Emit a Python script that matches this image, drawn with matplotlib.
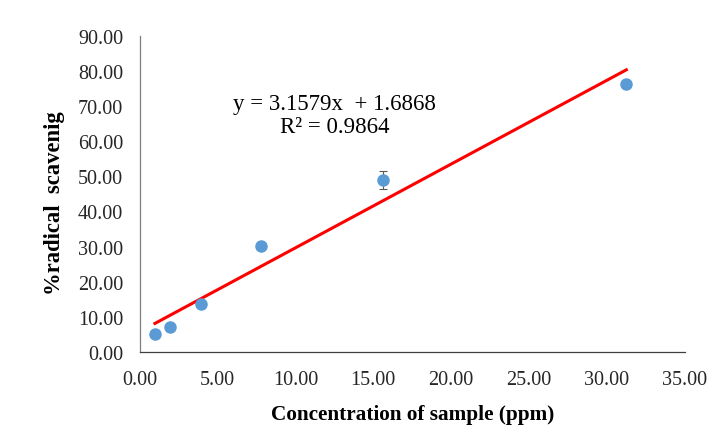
import numpy as np
import matplotlib
matplotlib.use("Agg")
import matplotlib.pyplot as plt
from matplotlib.ticker import FormatStrFormatter

# Data
conc = [0.98, 1.95, 3.91, 7.81, 15.63, 31.25]
scav = [5.1, 7.1, 13.7, 30.2, 49.0, 76.4]
err = [0.3, 0.3, 0.3, 0.3, 2.6, 0.4]
x_ticks = [0, 5, 10, 15, 20, 25, 30, 35]
y_ticks = [0, 10, 20, 30, 40, 50, 60, 70, 80, 90]
eq_text = "y = 3.1579x  + 1.6868"
r2_text = "R² = 0.9864"

plt.rcParams['font.family'] = ['Liberation Serif', 'DejaVu Serif']

fig = plt.figure(figsize=(7.2, 4.39), dpi=100)
ax = fig.add_axes([0.194, 0.196, 0.757, 0.72])

# trend line (least-squares over data range)
coef = np.polyfit(conc, scav, 1)
tx = np.array([min(conc), max(conc)])
ax.plot(tx, np.polyval(coef, tx), color='#FF0000', lw=2.2, zorder=3)

ax.errorbar(conc, scav, yerr=err, fmt='o', color='#5B9BD5', ms=8,
            ecolor='#595959', elinewidth=0.8, capsize=3, capthick=0.8, zorder=4)

ax.set_xlim(0, 35)
ax.set_ylim(0, 90)
ax.set_xticks(x_ticks)
ax.set_yticks(y_ticks)
ax.xaxis.set_major_formatter(FormatStrFormatter('%.2f'))
ax.yaxis.set_major_formatter(FormatStrFormatter('%.2f'))
ax.tick_params(length=0, labelsize=14.5, colors='#262626')
ax.tick_params(axis='y', pad=12)
ax.tick_params(axis='x', pad=13)
for s in ['top', 'right']:
    ax.spines[s].set_visible(False)
ax.spines['left'].set_color('#7f7f7f')
ax.spines['bottom'].set_color('#404040')
ax.spines['left'].set_linewidth(0.9)
ax.spines['bottom'].set_linewidth(0.9)

ax.set_xlabel("Concentration of sample (ppm)", fontsize=15.3, fontweight='bold', labelpad=11)
ax.set_ylabel("%radical  scavenig", fontsize=16.3, fontweight='bold', va='center')
ax.yaxis.set_label_coords(-0.156, 0.475)

ax.text(0.357, 0.785, eq_text, transform=ax.transAxes, ha='center', va='center', fontsize=16.5)
ax.text(0.357, 0.713, r2_text, transform=ax.transAxes, ha='center', va='center', fontsize=16.5)

fig.savefig("out.png", dpi=100)
